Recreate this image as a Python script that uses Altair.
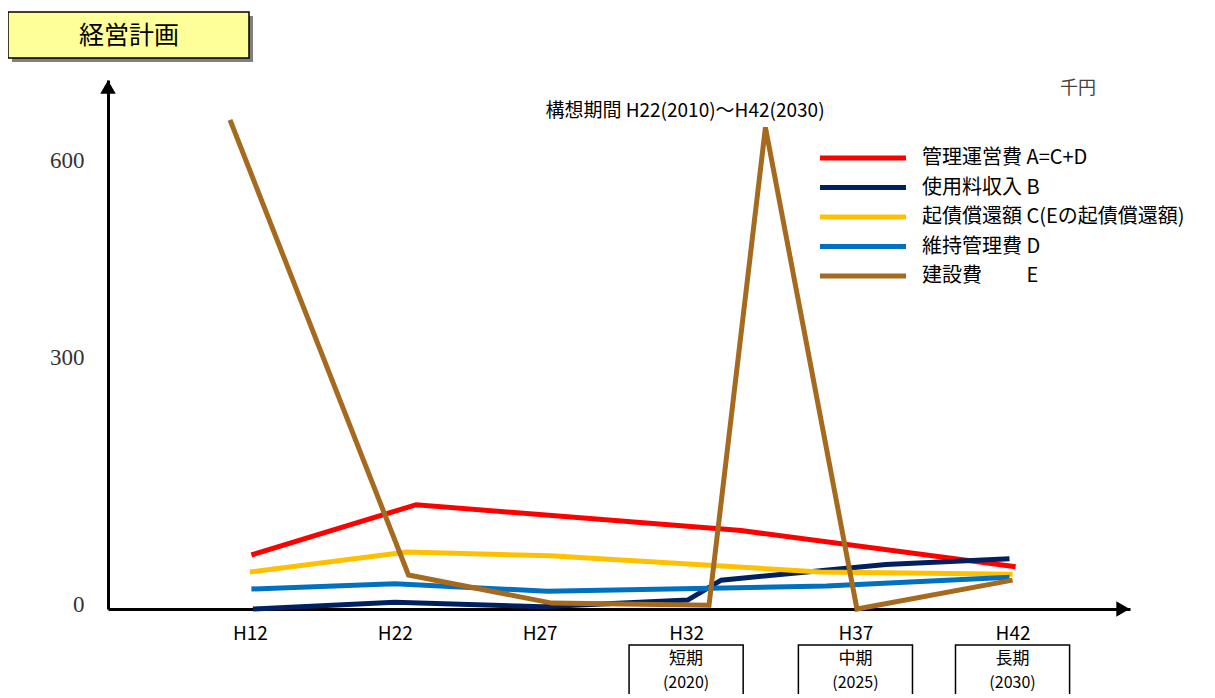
import altair as alt
import pandas as pd

# ---------------- data ----------------
tick_labels = ["H12", "H22", "H27", "H32", "H37", "H42"]
tick_pos = [0.0, 0.95, 1.90, 2.86, 3.97, 5.0]
y_ticks = [0, 300, 600]

series_names = ["管理運営費 A=C+D", "使用料収入 B", "起債償還額 C(Eの起債償還額)",
                "維持管理費 D", "建設費\u3000\u3000 E"]
series_colors = ["#FF0000", "#002060", "#FFC000", "#0070C0", "#A66A1F"]

a_x = [0.01, 1.09, 3.22, 5.02]
a_y = [73, 141, 106, 57]
b_x = [0.02, 0.95, 1.92, 2.87, 3.09, 4.17, 4.98]
b_y = [0, 9, 3, 12, 39, 60, 68]
c_x = [0.0, 1.03, 1.97, 3.74, 5.0]
c_y = [50, 77, 72, 50, 47]
d_x = [0.01, 0.95, 1.95, 3.78, 4.98]
d_y = [27, 34, 24, 31, 43]
e_x = [-0.13, 1.04, 1.98, 3.01, 3.38, 3.98, 5.0]
e_y = [661, 46, 8, 5, 651, 0, 39]

period_ticks = ["H32", "H37", "H42"]
period_labels = ["短期", "中期", "長期"]
period_years = ["(2020)", "(2025)", "(2030)"]

title_text = "経営計画"
unit_text = "千円"
span_text = "構想期間 H22(2010)～H42(2030)"

# ---------------- build tables ----------------
rows = []
for name, xs, ys in zip(series_names, [a_x, b_x, c_x, d_x, e_x], [a_y, b_y, c_y, d_y, e_y]):
    for x, v in zip(xs, ys):
        rows.append({"series": name, "x": x, "v": v})
df = pd.DataFrame(rows)

pos_of = dict(zip(tick_labels, tick_pos))
df_p = pd.DataFrame({
    "pos": [pos_of[t] for t in period_ticks],
    "label": period_labels,
    "year": period_years,
})
one = pd.DataFrame({"a": [0]})

FONT = "'Liberation Sans Narrow', 'Noto Sans CJK JP', sans-serif"
CJK = "'Noto Sans CJK JP', sans-serif"
W, H = 1022, 529

xscale = alt.Scale(domain=[-0.93, 5.77], nice=False, zero=False)
yscale = alt.Scale(domain=[0, 715], nice=False, zero=False)
cscale = alt.Scale(domain=series_names, range=series_colors)

label_expr = "[" + ",".join(f"'{t}'" for t in tick_labels) + "][indexof([" + \
    ",".join(str(p) for p in tick_pos) + "], datum.value)]"

xaxis = alt.Axis(values=tick_pos, labelExpr=label_expr, ticks=False, grid=False,
                 domainColor="black", domainWidth=3, labelFont=FONT, labelFontSize=19,
                 labelColor="black", labelPadding=15, title=None, labelFlush=False,
                 labelOverlap=False)
yaxis = alt.Axis(values=y_ticks, ticks=False, grid=False, domainColor="black", domainWidth=3,
                 labelFont="Liberation Serif", labelFontSize=23, labelColor="#333333",
                 labelPadding=24, title=None,
                 labelOffset={"condition": {"test": "datum.value === 300", "value": -30}, "value": -5})

lines = alt.Chart(df).mark_line(strokeWidth=5).encode(
    x=alt.X("x:Q", scale=xscale, axis=xaxis),
    y=alt.Y("v:Q", scale=yscale, axis=yaxis),
    color=alt.Color("series:N", scale=cscale, legend=None),
)

# axis arrowheads
arrow_up = alt.Chart(one).mark_point(shape="triangle-up", filled=True, size=240, color="black",
                                      opacity=1).encode(x=alt.value(0), y=alt.value(7))
arrow_right = alt.Chart(one).mark_point(shape="triangle-right", filled=True, size=240, color="black",
                                         opacity=1).encode(x=alt.value(W - 7), y=alt.value(H))

# title box with shadow
shadow = alt.Chart(one).mark_rect(color="#808080").encode(
    x=alt.value(-96), x2=alt.value(145), y=alt.value(-64), y2=alt.value(-18))
tbox = alt.Chart(one).mark_rect(fill="#FFFF99", stroke="black", strokeWidth=1.5).encode(
    x=alt.value(-100), x2=alt.value(141), y=alt.value(-68), y2=alt.value(-22))
ttext = alt.Chart(one).mark_text(font=CJK, fontSize=25, color="black", align="center",
                                 baseline="middle").encode(
    x=alt.value(21), y=alt.value(-44), text=alt.value(title_text))

unit = alt.Chart(one).mark_text(font=CJK, fontSize=18, color="#444444", align="center",
                                baseline="middle").encode(
    x=alt.value(970), y=alt.value(9), text=alt.value(unit_text))
span = alt.Chart(one).mark_text(font=FONT, fontSize=19, color="black", align="center",
                                baseline="middle").encode(
    x=alt.value(577), y=alt.value(31), text=alt.value(span_text))

# legend (manual, long stroke samples)
legend_layers = []
for i, (name, col) in enumerate(zip(series_names, series_colors)):
    yy = 78 + 29.5 * i
    legend_layers.append(alt.Chart(one).mark_rule(strokeWidth=5, color=col).encode(
        x=alt.value(712), x2=alt.value(798), y=alt.value(yy)))
    legend_layers.append(alt.Chart(one).mark_text(font=FONT, fontSize=20, color="black",
                                                  align="left", baseline="middle").encode(
        x=alt.value(814), y=alt.value(yy), text=alt.value(name)))

# period boxes under H32 / H37 / H42
pbase = alt.Chart(df_p).transform_calculate(x0="datum.pos - 0.374", x1="datum.pos + 0.374")
pbox = pbase.mark_rect(fill="white", stroke="black", strokeWidth=1.5).encode(
    x=alt.X("x0:Q", scale=xscale), x2="x1:Q", y=alt.value(565), y2=alt.value(660))
plab = alt.Chart(df_p).mark_text(font=CJK, fontSize=17, color="black", baseline="middle").encode(
    x=alt.X("pos:Q", scale=xscale), y=alt.value(579), text="label:N")
pyear = alt.Chart(df_p).mark_text(font=FONT, fontSize=16, color="black", baseline="middle").encode(
    x=alt.X("pos:Q", scale=xscale), y=alt.value(603), text="year:N")

chart = alt.layer(
    shadow, tbox, ttext, unit, span, pbox, plab, pyear,
    lines, *legend_layers, arrow_up, arrow_right,
).properties(
    width=W, height=H,
    background="white",
    autosize=alt.AutoSizeParams(type="none"),
    padding={"left": 100, "top": 72, "right": 77, "bottom": 85},
).configure_view(stroke=None)

chart.save("out.html", embed_options={"renderer": "svg", "actions": False})
